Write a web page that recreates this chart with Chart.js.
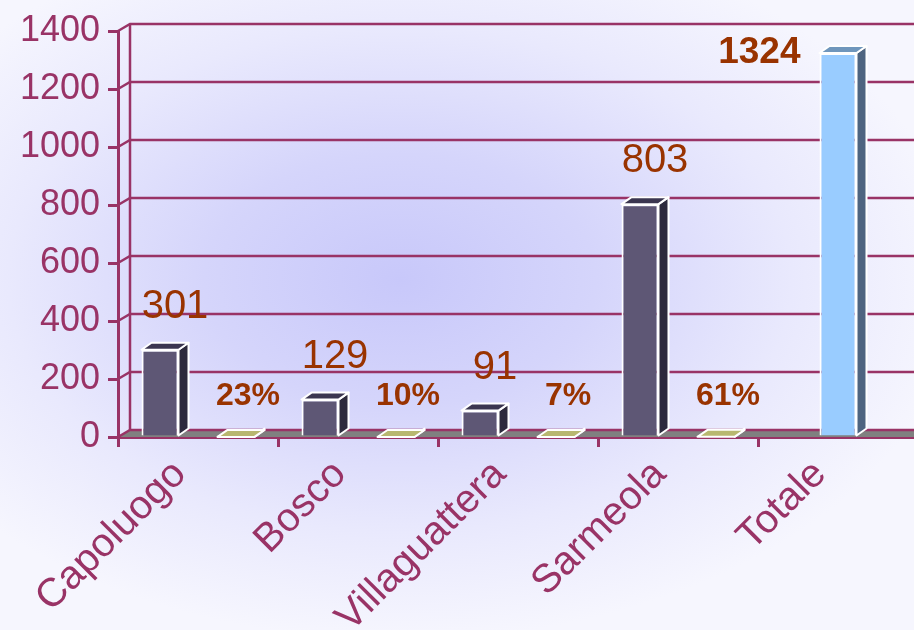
<!DOCTYPE html>
<html>
<head>
<meta charset="utf-8">
<script src="https://cdn.jsdelivr.net/npm/chart.js@4/dist/chart.umd.min.js"></script>
<style>
html,body{margin:0;padding:0;overflow:hidden;width:914px;height:630px;}
body{background:radial-gradient(ellipse 560px 360px at 400px 280px,#c8c8fa 0%,#d5d5fb 35%,#e9e9fd 70%,#f6f6fe 100%);}
#wrap{width:922px;height:630px;}
</style>
</head>
<body>
<div id="wrap"><canvas id="c" width="922" height="630"></canvas></div>
<script>
const categories = ['Capoluogo','Bosco','Villaguattera','Sarmeola','Totale'];
const residents = [301,129,91,803,null];
const shares = [0.23,0.10,0.07,0.61,null];
const total = [null,null,null,null,1324];
const yTicks = [0,200,400,600,800,1000,1200,1400];

const LINE = '#993366';
const LABEL = '#993300';
const DX = 10, DY = -7;   // bar depth
const WX = 12, WY = -7;   // wall depth

const faces = [
  {front:'#5e5775', top:'#3b3650', side:'#2d2a3c'},
  {front:'#b8b870', top:'#b8b870', side:'#9a9a5a'},
  {front:'#99ccff', top:'#6f96bc', side:'#4e6480'}
];

function poly(ctx, pts, fill){
  ctx.beginPath();
  ctx.moveTo(pts[0][0],pts[0][1]);
  for(let i=1;i<pts.length;i++) ctx.lineTo(pts[i][0],pts[i][1]);
  ctx.closePath();
  ctx.fillStyle=fill; ctx.fill();
  ctx.strokeStyle='#ffffff'; ctx.lineWidth=2; ctx.lineJoin='round'; ctx.stroke();
}

const wall = {
  id:'wall',
  beforeDatasetsDraw(chart){
    const {ctx, chartArea:a, scales:{y}} = chart;
    ctx.save();
    const y0 = y.getPixelForValue(0);
    ctx.fillStyle='#808080';
    ctx.beginPath();
    ctx.moveTo(a.left,y0); ctx.lineTo(a.left+WX,y0+WY);
    ctx.lineTo(chart.width,y0+WY); ctx.lineTo(chart.width,y0); ctx.closePath(); ctx.fill();
    ctx.strokeStyle=LINE; ctx.lineWidth=2.5;
    yTicks.forEach(v=>{
      const py=y.getPixelForValue(v);
      ctx.beginPath(); ctx.moveTo(a.left,py); ctx.lineTo(a.left+WX,py+WY); ctx.lineTo(chart.width,py+WY); ctx.stroke();
    });
    ctx.beginPath();
    ctx.moveTo(a.left+WX,y.getPixelForValue(1400)+WY); ctx.lineTo(a.left+WX,y0+WY); ctx.stroke();
    ctx.restore();
  },
  afterDatasetsDraw(chart){
    const ctx = chart.ctx;
    ctx.save();
    chart.data.datasets.forEach((ds,di)=>{
      const meta = chart.getDatasetMeta(di);
      const f = faces[di];
      meta.data.forEach((bar,i)=>{
        const v = ds.data[i];
        if(v===null||v===undefined) return;
        const L = bar.x - bar.width/2, R = bar.x + bar.width/2, T = bar.y, B = bar.base;
        poly(ctx,[[R,T],[R+DX,T+DY],[R+DX,B+DY],[R,B]],f.side);
        poly(ctx,[[L,T],[L+DX,T+DY],[R+DX,T+DY],[R,T]],f.top);
        ctx.fillStyle=LABEL;
        ctx.textBaseline='alphabetic';
        if(di===0){
          ctx.font='40px "Liberation Sans", Arial, sans-serif';
          ctx.textAlign='center';
          ctx.fillText(String(v), bar.x+15, T-32);
        } else if(di===1){
          ctx.font='bold 32px "Liberation Sans", Arial, sans-serif';
          ctx.textAlign='center';
          ctx.fillText(Math.round(v*100)+'%', bar.x+12, T-32);
        } else {
          ctx.font='bold 37px "Liberation Sans", Arial, sans-serif';
          ctx.textAlign='right';
          ctx.fillText(String(v), L-19, T+10);
        }
      });
    });
    ctx.restore();
  }
};

new Chart(document.getElementById('c'), {
  type:'bar',
  data:{
    labels:categories,
    datasets:[
      {data:residents, backgroundColor:faces[0].front, borderColor:'#ffffff', borderWidth:2, skipNull:true, categoryPercentage:0.95, barPercentage:0.487, maxBarThickness:37},
      {data:shares, backgroundColor:faces[1].front, borderColor:'#ffffff', borderWidth:0, skipNull:true, categoryPercentage:0.95, barPercentage:0.487, maxBarThickness:37},
      {data:total, backgroundColor:faces[2].front, borderColor:'#ffffff', borderWidth:2, skipNull:true, categoryPercentage:0.95, barPercentage:0.487, maxBarThickness:37}
    ]
  },
  options:{
    responsive:false,
    animation:false,
    layout:{padding:{top:31,right:4,left:0,bottom:0}},
    plugins:{legend:{display:false},tooltip:{enabled:false}},
    scales:{
      x:{
        grid:{display:true,drawOnChartArea:false,drawTicks:true,tickLength:10,color:LINE,lineWidth:3,offset:true},
        border:{display:true,color:LINE,width:3},
        ticks:{color:LINE,font:{family:'"Liberation Sans", Arial, sans-serif',size:40},minRotation:45,maxRotation:45,autoSkip:false,padding:4,labelOffset:-18},
        afterFit(s){s.height=193;s.paddingLeft=0;s.paddingRight=0;}
      },
      y:{
        min:0,max:1400,
        afterBuildTicks(s){s.ticks=yTicks.map(v=>({value:v}));},
        grid:{display:true,drawOnChartArea:false,drawTicks:true,tickLength:10,color:LINE,lineWidth:3},
        border:{display:true,color:LINE,width:3},
        ticks:{color:LINE,font:{family:'"Liberation Sans", Arial, sans-serif',size:36},padding:8,autoSkip:false,callback:v=>String(v)},
        afterFit(s){s.width=118;}
      }
    }
  },
  plugins:[wall]
});
</script>
</body>
</html>
